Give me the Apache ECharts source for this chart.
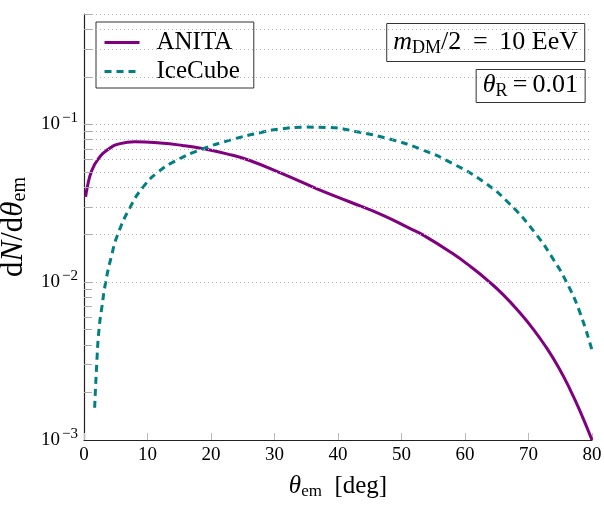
<!DOCTYPE html>
<html>
<head>
<meta charset="utf-8">
<script src="https://cdn.jsdelivr.net/npm/echarts@6/dist/echarts.min.js"></script>
<style>html,body{margin:0;padding:0;background:#fff;}#c{width:604px;height:505px;}</style>
</head>
<body>
<div id="c"></div>
<script>
// ---- data ----
const anitaX = [0.26, 0.52, 1.15, 2.2, 3.94, 5.7, 8.0, 12.0, 15.5, 18.8, 22.5, 26.1, 31.4, 36.6, 41.9, 47.1, 51.3, 53.3, 58.0, 61.0, 63.5, 66.0, 68.5, 70.8, 72.8, 74.7, 76.5, 78.3, 80.0];
const anitaY = [0.0347, 0.04, 0.05, 0.06, 0.07, 0.0755, 0.0776, 0.0762, 0.0735, 0.07, 0.065, 0.059, 0.0483, 0.0392, 0.0322, 0.0265, 0.0219, 0.02, 0.01522, 0.01244, 0.01031, 0.00834, 0.0065, 0.00501, 0.00386, 0.0029, 0.00211, 0.001465, 0.001];
const iceX = [1.68, 2.0, 2.36, 2.83, 3.41, 4.3, 5.3, 7.3, 9.3, 11.7, 14.9, 18.3, 23.3, 28.0, 31.0, 35.0, 38.5, 43.0, 48.0, 53.0, 58.0, 63.0, 67.0, 71.0, 74.0, 76.0, 78.0, 80.0];
const iceY = [0.0016, 0.003, 0.005, 0.007, 0.01, 0.0145, 0.02, 0.03, 0.04, 0.05, 0.06, 0.069, 0.08, 0.089, 0.0935, 0.096, 0.0955, 0.0897, 0.0809, 0.0697, 0.0566, 0.043, 0.0314, 0.0206, 0.01377, 0.00998, 0.00659, 0.0037];
const seriesNames = ['ANITA', 'IceCube'];
const xTicks = [0, 10, 20, 30, 40, 50, 60, 70, 80];
const yMajorTicks = [0.001, 0.01, 0.1];
const yTickLabels = ['10{sup|−3}', '10{sup|−2}', '10{sup|−1}'];
const yGridValues = [0.002,0.003,0.004,0.005,0.006,0.007,0.008,0.009,0.01,0.02,0.03,0.04,0.05,0.06,0.07,0.08,0.09,0.1,0.2,0.3,0.4,0.5];

const FONT = 'Liberation Serif';
const pairs = (xs, ys) => xs.map((x, i) => [x, ys[i]]);
const mathRich = (size, subSize, subPad) => ({
  i: {fontFamily: FONT, fontStyle: 'italic', fontWeight: 'normal', fontSize: size, color: '#000'},
  sub: {fontFamily: FONT, fontWeight: 'normal', fontSize: subSize, color: '#000', padding: [subPad, 0, 0, 0]},
  n: {fontFamily: FONT, fontWeight: 'normal', fontSize: size, color: '#000'}
});

const gridMarks = yGridValues.map(v => ({yAxis: v}));
const tickMarks = yGridValues.map(v => [
  {coord: [0, v], lineStyle: {type: 'solid', color: '#aaa', width: 1}},
  {coord: [1.25, v]}
]);

const chart = echarts.init(document.getElementById('c'), null, {renderer: 'canvas'});
chart.setOption({
  animation: false,
  backgroundColor: '#fff',
  grid: {left: 84, right: 12, top: 14, bottom: 65, containLabel: false, outerBoundsMode: 'none'},
  title: [
    {
      text: '{i|m}{sub|DM}{n|/2 \u2009=\u2009 10 EeV}',
      right: 19, top: 22,
      borderColor: '#333', borderWidth: 1, padding: [6, 7, 5, 7],
      textStyle: {fontWeight: 'normal', rich: mathRich(26, 18, 11)}
    },
    {
      text: '{i|θ}{sub|R}{n|\u2009=\u20090.01}',
      right: 19, top: 68,
      borderColor: '#333', borderWidth: 1, padding: [3, 7, 3, 7],
      textStyle: {fontWeight: 'normal', rich: mathRich(26, 18, 11)}
    }
  ],
  legend: {
    data: seriesNames,
    orient: 'vertical',
    left: 96, top: 22,
    borderColor: '#333', borderWidth: 1,
    padding: [8, 14, 4, 7],
    itemWidth: 35, itemHeight: 14, itemGap: 4,
    itemStyle: {opacity: 0},
    lineStyle: {width: 3},
    textStyle: {fontFamily: FONT, fontSize: 25, lineHeight: 24, color: '#000', padding: [0, 0, 0, 12]}
  },
  xAxis: {
    type: 'value', min: 0, max: 80, interval: 10,
    name: '{i|θ}{sub|em}{n|  [deg]}',
    nameLocation: 'middle', nameGap: 33,
    nameTextStyle: {rich: mathRich(25, 17, 10)},
    axisLine: {show: true, onZero: false, lineStyle: {color: '#222', width: 1.2}},
    axisTick: {show: true, inside: true, length: 7, lineStyle: {color: '#bbb'}},
    axisLabel: {fontFamily: FONT, fontSize: 19, color: '#000', margin: 6,
      formatter: v => xTicks.includes(v) ? String(v) : ''},
    splitLine: {show: false}
  },
  yAxis: {
    type: 'log', logBase: 10, min: 0.001, max: 0.5,
    name: '{n|d}{i|N}{n|/d}{i|θ}{sub|em}',
    nameLocation: 'middle', nameGap: 53, nameRotate: 90,
    nameTextStyle: {rich: mathRich(31, 20, 12)},
    axisLine: {show: true, onZero: false, lineStyle: {color: '#222', width: 1.2}},
    axisTick: {show: false},
    axisLabel: {
      margin: 6,
      formatter: v => {
        const idx = yMajorTicks.findIndex(t => Math.abs(t - v) / t < 0.01);
        return idx >= 0 ? yTickLabels[idx] : '';
      },
      rich: {
        sup: {fontFamily: FONT, fontSize: 15, color: '#000', padding: [0, 0, 12, 2]}
      },
      fontFamily: FONT, fontSize: 19, color: '#000'
    },
    splitLine: {show: false}
  },
  series: [
    {
      name: seriesNames[0], type: 'line', data: pairs(anitaX, anitaY),
      smooth: 0.5, symbol: 'none', clip: true, z: 3,
      lineStyle: {color: '#800080', width: 3},
      itemStyle: {color: '#800080'},
      markLine: {
        silent: true, symbol: 'none', animation: false,
        label: {show: false},
        lineStyle: {color: '#b5b5b5', width: 1, type: [1, 3]},
        data: gridMarks.concat(tickMarks)
      }
    },
    {
      name: seriesNames[1], type: 'line', data: pairs(iceX, iceY),
      smooth: 0.5, symbol: 'none', clip: true, z: 3,
      lineStyle: {color: '#008080', width: 3, type: [7, 5]},
      itemStyle: {color: '#008080'}
    }
  ]
});
</script>
</body>
</html>
